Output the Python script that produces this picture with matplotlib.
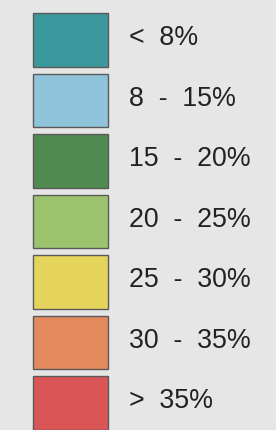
import matplotlib
matplotlib.use('Agg')
import matplotlib.pyplot as plt

labels = ['<  8%', '8  -  15%', '15  -  20%', '20  -  25%', '25  -  30%', '30  -  35%', '>  35%']
colors = ['#3b999d', '#8fc4da', '#4f8a50', '#9cc46f', '#e5d55c', '#e38a5c', '#da5656']

fig = plt.figure(figsize=(2.76, 4.30), dpi=100)
fig.patch.set_facecolor('#e6e6e6')
ax = fig.add_axes([0, 0, 1, 1])
ax.set_facecolor('#e6e6e6')

ind = range(len(labels))
ax.barh(ind, [75] * len(labels), left=33, height=0.89, color=colors,
        edgecolor='#5a5a5a', linewidth=1.0)

for i, lab in enumerate(labels):
    ax.text(129, i - 0.03, lab, ha='left', va='center', fontsize=19.3,
            family='Liberation Sans', color='#222222')

ax.set_xlim(0, 276)
ax.set_ylim(390 / 60.5, -40 / 60.5)
ax.axis('off')

plt.savefig('out.png', dpi=100, facecolor=fig.get_facecolor())
